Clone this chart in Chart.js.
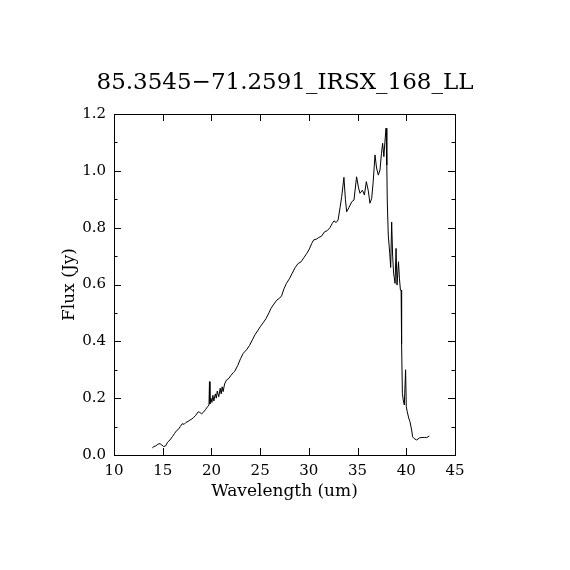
<!DOCTYPE html>
<html>
<head>
<meta charset="utf-8">
<title>85.3545-71.2591_IRSX_168_LL</title>
<script src="https://cdn.jsdelivr.net/npm/chart.js@4/dist/chart.umd.min.js"></script>
<style>
  html, body { margin: 0; padding: 0; background: #fff; }
  canvas { display: block; }
</style>
</head>
<body>
<canvas id="spectrum" width="570" height="570"></canvas>
<script>
// 数据
const wavelength = [
    13.93, 14.1, 14.3, 14.5, 14.72, 14.9, 15.1, 15.3, 15.5, 15.75,
    16.0, 16.2, 16.43, 16.6, 16.8, 17.0, 17.2, 17.4, 17.6, 17.8,
    18.0, 18.2, 18.4, 18.65, 18.8, 19.0, 19.17, 19.4, 19.6, 19.75,
    19.8, 19.85, 19.95, 20.05, 20.15, 20.25, 20.4, 20.5, 20.6, 20.75,
    20.9, 21.0, 21.1, 21.2, 21.35, 21.55, 21.8, 22.0, 22.25, 22.4,
    22.7, 23.0, 23.27, 23.6, 23.9, 24.2, 24.5, 24.8, 25.0, 25.3,
    25.6, 25.9, 26.1, 26.35, 26.7, 27.0, 27.2, 27.45, 27.7, 28.0,
    28.3, 28.6, 28.9, 29.2, 29.5, 29.8, 30.05, 30.3, 30.5, 30.8,
    31.0, 31.3, 31.6, 31.9, 32.17, 32.4, 32.58, 32.8, 33.0, 33.2,
    33.37, 33.6, 33.75, 33.88, 34.1, 34.4, 34.63, 34.9, 35.1, 35.25,
    35.5, 35.7, 35.9, 36.1, 36.27, 36.45, 36.6, 36.79, 36.95, 37.13,
    37.3, 37.45, 37.57, 37.7, 37.8, 37.92, 38.0, 38.05, 38.15, 38.3,
    38.4, 38.5, 38.6, 38.7, 38.85, 38.95, 39.05, 39.2, 39.3, 39.4,
    39.47, 39.52, 39.6, 39.7, 39.8, 39.93, 40.0, 40.1, 40.25, 40.38,
    40.55, 40.65, 40.8, 41.06, 41.4, 41.9, 42.1, 42.36
];
const flux = [
    0.025, 0.030, 0.032, 0.038, 0.040, 0.035, 0.030, 0.032, 0.045, 0.053,
    0.065, 0.075, 0.086, 0.090, 0.100, 0.110, 0.108, 0.115, 0.118, 0.123,
    0.127, 0.133, 0.140, 0.152, 0.150, 0.145, 0.150, 0.160, 0.170, 0.176,
    0.258, 0.180, 0.200, 0.185, 0.210, 0.190, 0.215, 0.200, 0.225, 0.205,
    0.235, 0.215, 0.240, 0.223, 0.250, 0.264, 0.270, 0.280, 0.290, 0.295,
    0.315, 0.340, 0.358, 0.370, 0.385, 0.405, 0.425, 0.440, 0.451, 0.465,
    0.480, 0.500, 0.515, 0.528, 0.545, 0.552, 0.560, 0.585, 0.604, 0.620,
    0.640, 0.660, 0.674, 0.680, 0.695, 0.710, 0.725, 0.745, 0.757, 0.760,
    0.765, 0.770, 0.785, 0.790, 0.800, 0.815, 0.824, 0.818, 0.827, 0.870,
    0.909, 0.977, 0.900, 0.856, 0.870, 0.891, 0.897, 0.979, 0.940, 0.921,
    0.932, 0.915, 0.962, 0.930, 0.886, 0.903, 0.960, 1.056, 1.010, 0.985,
    1.003, 1.060, 1.097, 1.050, 1.100, 1.150, 1.020, 0.890, 0.774, 0.710,
    0.660, 0.820, 0.700, 0.640, 0.604, 0.727, 0.598, 0.680, 0.620, 0.580,
    0.580, 0.390, 0.217, 0.190, 0.176, 0.300, 0.170, 0.152, 0.130, 0.117,
    0.088, 0.064, 0.058, 0.053, 0.061, 0.062, 0.061, 0.067
];

// 刻度
const xTicks = [10, 15, 20, 25, 30, 35, 40, 45];
const yTicks = [0.0, 0.2, 0.4, 0.6, 0.8, 1.0, 1.2];
const yMinorTicks = [0.1, 0.3, 0.5, 0.7, 0.9, 1.1];

const plotTitle = '85.3545\u221271.2591_IRSX_168_LL';
const fontFamily = "'DejaVu Serif', 'Liberation Serif', serif";

// 画框和内向刻度
const frameTicks = {
    id: 'frameTicks',
    afterDraw(chart) {
        const { ctx, chartArea: a, scales: { x, y } } = chart;
        ctx.save();
        ctx.strokeStyle = '#000';
        ctx.lineWidth = 1;
        ctx.strokeRect(a.left + 0.5, a.top + 0.5, a.right - a.left, a.bottom - a.top);
        ctx.beginPath();
        xTicks.forEach(v => {
            const px = Math.round(x.getPixelForValue(v)) + 0.5;
            ctx.moveTo(px, a.bottom);
            ctx.lineTo(px, a.bottom - 7);
            ctx.moveTo(px, a.top);
            ctx.lineTo(px, a.top + 7);
        });
        yTicks.forEach(v => {
            const py = Math.round(y.getPixelForValue(v)) + 0.5;
            ctx.moveTo(a.left, py);
            ctx.lineTo(a.left + 7, py);
            ctx.moveTo(a.right, py);
            ctx.lineTo(a.right - 7, py);
        });
        yMinorTicks.forEach(v => {
            const py = Math.round(y.getPixelForValue(v)) + 0.5;
            ctx.moveTo(a.left, py);
            ctx.lineTo(a.left + 3.5, py);
            ctx.moveTo(a.right, py);
            ctx.lineTo(a.right - 3.5, py);
        });
        ctx.stroke();
        ctx.restore();
    }
};

const ctx = document.getElementById('spectrum').getContext('2d');
new Chart(ctx, {
    type: 'line',
    data: {
        datasets: [{
            data: wavelength.map((w, i) => ({ x: w, y: flux[i] })),
            borderColor: '#000',
            borderWidth: 1,
            pointRadius: 0,
            tension: 0,
            fill: false
        }]
    },
    options: {
        responsive: false,
        animation: false,
        devicePixelRatio: 1,
        layout: {
            padding: { left: 0, right: 0, top: 0, bottom: 68 }
        },
        plugins: {
            legend: { display: false },
            tooltip: { enabled: false },
            title: {
                display: true,
                text: plotTitle,
                color: '#000',
                font: { family: fontFamily, size: 23, weight: 'normal' },
                padding: { top: 69.5, bottom: 16.9 }
            }
        },
        scales: {
            x: {
                type: 'linear',
                min: 10,
                max: 45,
                afterBuildTicks: s => { s.ticks = xTicks.map(v => ({ value: v })); },
                afterFit: s => { s.height = 47; },
                grid: { display: false, drawTicks: false },
                border: { display: false },
                ticks: {
                    color: '#000',
                    padding: 7,
                    maxRotation: 0,
                    font: { family: fontFamily, size: 15 }
                },
                title: {
                    display: true,
                    text: 'Wavelength (um)',
                    color: '#000',
                    font: { family: fontFamily, size: 17 },
                    padding: { top: 4, bottom: 0 }
                }
            },
            y: {
                type: 'linear',
                min: 0,
                max: 1.2,
                afterBuildTicks: s => { s.ticks = yTicks.map(v => ({ value: v })); },
                afterFit: s => { s.width = 114; },
                grid: { display: false, drawTicks: false },
                border: { display: false },
                ticks: {
                    color: '#000',
                    padding: 8,
                    font: { family: fontFamily, size: 15 },
                    callback: v => Number(v).toFixed(1)
                },
                title: {
                    display: true,
                    text: 'Flux (Jy)',
                    color: '#000',
                    font: { family: fontFamily, size: 17 },
                    padding: { top: 59, bottom: 0 }
                }
            },
            // 右侧空白 (keeps the title centred on the page)
            yRight: {
                type: 'linear',
                position: 'right',
                min: 0,
                max: 1.2,
                afterFit: s => { s.width = 115; },
                grid: { display: false, drawTicks: false },
                border: { display: false },
                ticks: { display: false }
            }
        }
    },
    plugins: [frameTicks]
});
</script>
</body>
</html>
